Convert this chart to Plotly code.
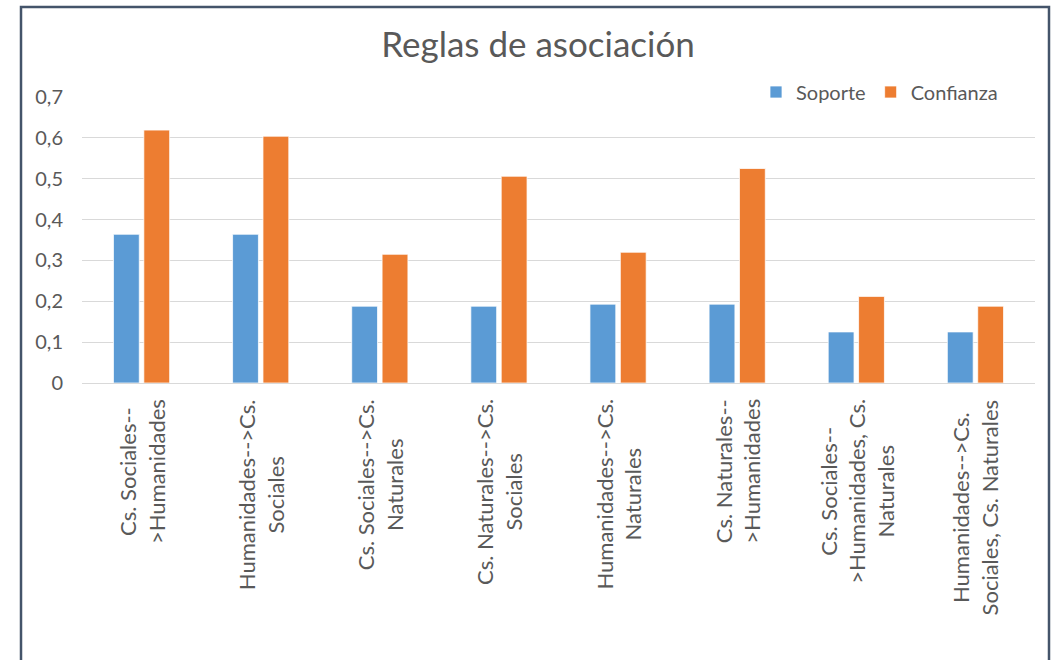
import plotly.graph_objects as go

categories = [
    "Cs. Sociales-->Humanidades",
    "Humanidades-->Cs. Sociales",
    "Cs. Sociales-->Cs. Naturales",
    "Cs. Naturales-->Cs. Sociales",
    "Humanidades-->Cs. Naturales",
    "Cs. Naturales-->Humanidades",
    "Cs. Sociales-->Humanidades, Cs. Naturales",
    "Humanidades-->Cs. Sociales, Cs. Naturales",
]
tick_labels = [
    "Cs. Sociales--<br>>Humanidades",
    "Humanidades-->Cs.<br>Sociales",
    "Cs. Sociales-->Cs.<br>Naturales",
    "Cs. Naturales-->Cs.<br>Sociales",
    "Humanidades-->Cs.<br>Naturales",
    "Cs. Naturales--<br>>Humanidades",
    "Cs. Sociales--<br>>Humanidades, Cs.<br>Naturales",
    "Humanidades-->Cs.<br>Sociales, Cs. Naturales",
]
soporte = [0.364, 0.364, 0.188, 0.188, 0.193, 0.193, 0.125, 0.125]
confianza = [0.619, 0.604, 0.315, 0.506, 0.320, 0.525, 0.212, 0.188]

FONT = "Lato, 'Open Sans', sans-serif"
GRAY = "#595959"

fig = go.Figure()
fig.add_trace(go.Bar(name="Soporte", x=categories, y=soporte,
                     marker=dict(color="#5B9BD5", line=dict(color="white", width=0.75))))
fig.add_trace(go.Bar(name="Confianza", x=categories, y=confianza,
                     marker=dict(color="#ED7D31", line=dict(color="white", width=0.75))))

for cat, lab in zip(categories, tick_labels):
    fig.add_annotation(x=cat, xref="x", y=0, yref="paper", yanchor="top", xanchor="center",
                       yshift=-14, textangle=-90, align="center", showarrow=False,
                       text=lab, font=dict(family=FONT, size=22, color=GRAY))

W, H = 1051, 660
L, R = 82, 16
T = 97
B = H - 383.3
pw = W - L - R
ph = H - T - B

def px2x(sx):
    return (sx - L) / pw

def py2y(sy):
    return (H - B - sy) / ph

fig.add_shape(type="rect", xref="paper", yref="paper",
              x0=px2x(21), x1=px2x(1049), y0=py2y(700), y1=py2y(7),
              line=dict(color="#44546A", width=2.5), fillcolor="rgba(0,0,0,0)", layer="below")

fig.update_layout(
    width=W, height=H,
    margin=dict(l=L, r=R, t=T, b=B),
    paper_bgcolor="white", plot_bgcolor="white",
    separators=",.",
    barmode="group", bargap=0.49, bargroupgap=0.15,
    title=dict(text="Reglas de asociación", x=538 / W, xref="container",
               y=1 - 45 / H, yanchor="middle", xanchor="center",
               font=dict(family=FONT, size=35, color=GRAY)),
    legend=dict(orientation="h", x=px2x(1003), xanchor="right", y=py2y(92), yanchor="middle",
                font=dict(family=FONT, size=20, color=GRAY), bgcolor="rgba(0,0,0,0)",
                itemwidth=30, traceorder="normal"),
    xaxis=dict(showticklabels=False, showgrid=False, showline=True, linecolor="#D9D9D9",
               linewidth=1, ticks=""),
    yaxis=dict(range=[0, 0.7], dtick=0.1, showgrid=True, gridcolor="#D9D9D9", gridwidth=1,
               zeroline=False, ticks="", ticklabelstandoff=18,
               tickfont=dict(family=FONT, size=20, color=GRAY)),
)

fig.write_html("out.html", config={"displayModeBar": False},
               post_script="document.body.style.margin='0';document.body.style.overflow='hidden';")
